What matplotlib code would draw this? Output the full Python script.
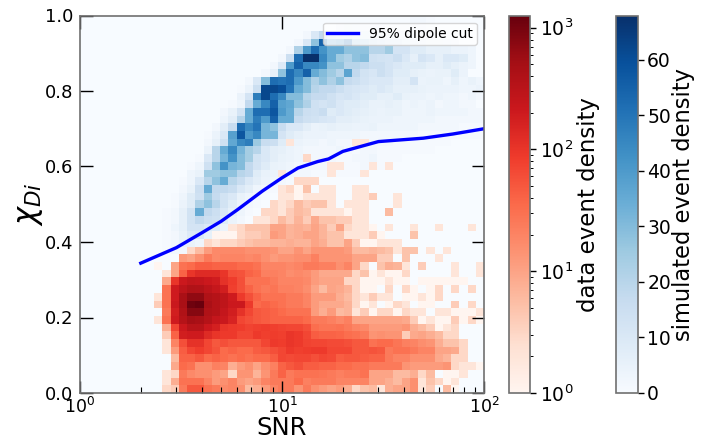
import numpy as np
import matplotlib
matplotlib.use("Agg")
import matplotlib.pyplot as plt
from matplotlib.colors import LogNorm, Normalize

# dipole cut curve
cut_snr = [2, 3, 4, 5, 6, 8, 10, 12, 15, 17, 20, 30, 50, 70, 100]
cut_chi = [0.344, 0.385, 0.424, 0.455, 0.485, 0.535, 0.57, 0.596, 0.613, 0.62, 0.64, 0.666, 0.675, 0.686, 0.70]

# data counts per row (bottom row first), starting at column 9
data_first_col = 9
data_rows = [
    [0, 3, 4, 25, 50, 50, 30, 25, 18, 20, 15, 6, 8, 12, 20, 25, 25, 14, 25, 15, 12, 10, 12, 8, 3, 5, 6, 2, 8, 10, 10, 15, 2, 4, 0, 6, 1],
    [0, 2, 8, 30, 30, 30, 20, 12, 15, 20, 12, 10, 12, 20, 25, 25, 25, 35, 22, 25, 25, 25, 20, 20, 20, 20, 10, 10, 8, 6, 10, 15, 2, 5, 3, 1, 2],
    [0, 2, 3, 25, 18, 15, 15, 12, 10, 3, 14, 14, 7, 14, 25, 40, 25, 30, 30, 30, 28, 25, 22, 25, 25, 30, 10, 10, 10, 6, 6, 8, 3, 6, 0, 1, 1, 2],
    [0, 0, 9, 35, 30, 15, 15, 22, 20, 8, 12, 15, 10, 16, 22, 40, 50, 60, 45, 45, 40, 40, 35, 35, 30, 30, 25, 25, 25, 25, 14, 12, 12, 12, 12, 14, 3, 2, 2, 1],
    [0, 0, 6, 40, 40, 50, 35, 40, 35, 30, 35, 30, 35, 35, 45, 70, 65, 70, 70, 60, 70, 65, 45, 50, 50, 45, 40, 40, 25, 20, 20, 15, 15, 15, 9, 7, 3, 3],
    [0, 2, 12, 45, 70, 85, 70, 55, 35, 40, 35, 35, 45, 50, 60, 70, 90, 80, 85, 90, 90, 70, 70, 70, 50, 50, 55, 50, 25, 30, 30, 25, 20, 20, 10, 10, 9, 3],
    [0, 2, 20, 60, 110, 110, 70, 50, 60, 50, 50, 50, 50, 70, 90, 85, 100, 90, 75, 70, 70, 65, 65, 60, 50, 50, 30, 35, 35, 28, 22, 20, 16, 14, 8, 5, 5, 3],
    [0, 4, 40, 180, 200, 200, 130, 100, 90, 90, 70, 70, 90, 80, 85, 80, 100, 90, 70, 45, 40, 40, 38, 32, 30, 25, 14, 15, 14, 14, 4, 9, 10, 8, 6, 3, 3],
    [0, 8, 70, 210, 330, 330, 210, 170, 100, 90, 85, 75, 80, 85, 80, 75, 70, 70, 60, 32, 28, 28, 30, 25, 20, 18, 12, 12, 12, 12, 14, 8, 6, 4, 1, 2, 3],
    [2, 30, 200, 350, 500, 450, 350, 250, 220, 160, 70, 60, 50, 45, 40, 40, 40, 40, 35, 25, 25, 22, 18, 22, 10, 10, 10, 10, 10, 10, 9, 4, 1, 2, 1, 1, 4, 1, 3, 1],
    [0, 25, 180, 400, 800, 800, 400, 350, 250, 180, 110, 70, 50, 45, 40, 35, 30, 30, 30, 12, 8, 12, 6, 7, 2, 4, 1, 3, 3, 1, 3, 2, 2, 0, 2, 2, 1, 1, 1, 2],
    [4, 30, 220, 450, 1100, 1200, 450, 350, 280, 210, 210, 90, 35, 40, 35, 30, 25, 25, 20, 12, 9, 9, 9, 7, 3, 1, 2, 0, 1, 3, 2, 0, 1, 1, 0, 0, 4, 0, 3],
    [2, 30, 200, 450, 700, 700, 400, 350, 280, 200, 90, 60, 40, 30, 30, 30, 25, 25, 20, 12, 12, 12, 8, 6, 3, 2, 4, 2, 2, 0, 1, 1, 2, 1, 3],
    [0, 30, 200, 300, 400, 380, 300, 240, 180, 80, 60, 40, 30, 25, 28, 22, 22, 20, 16, 10, 6, 10, 9, 7, 3, 1, 1, 0, 3, 0, 3, 1, 0, 1, 3, 0, 3, 0, 3],
    [0, 9, 100, 210, 270, 250, 210, 190, 110, 85, 60, 30, 30, 30, 25, 20, 20, 20, 18, 12, 10, 10, 10, 3, 3, 1, 1, 1, 2, 1, 1, 0, 1, 1, 1, 1, 1, 1],
    [0, 2, 10, 40, 100, 130, 130, 130, 100, 60, 55, 40, 35, 22, 22, 20, 16, 18, 16, 12, 9, 9, 9, 9, 3, 5, 1, 2, 1, 1, 3, 0, 0, 0, 0, 0, 2, 0, 0, 2],
    [1, 0, 10, 30, 35, 45, 45, 40, 40, 40, 35, 35, 30, 20, 20, 20, 18, 20, 25, 25, 22, 22, 15, 20, 10, 3, 0, 5, 8, 7, 2, 0, 4, 0, 0, 0, 2, 0, 0, 2],
    [0, 0, 0, 12, 10, 15, 25, 18, 20, 20, 20, 18, 20, 15, 12, 14, 14, 16, 16, 22, 14, 14, 14, 14, 10, 10, 10, 4, 4, 0, 5, 0, 0, 0, 2],
    [0, 0, 0, 0, 3, 6, 12, 18, 18, 18, 18, 15, 15, 15, 14, 10, 10, 14, 10, 14, 14, 14, 14, 12, 6, 6, 7, 6, 5, 2, 5, 5, 0, 2, 0, 2],
    [0, 0, 0, 0, 0, 0, 3, 2, 3, 3, 4, 5, 6, 6, 7, 7, 8, 7, 7, 10, 8, 5, 5, 10, 4, 1, 1, 2, 2, 2],
    [0, 0, 0, 0, 0, 0, 0, 1, 1, 1, 3, 4, 4, 5, 12, 10, 7, 8, 10, 10, 7, 5, 5, 2, 2, 2, 4, 1, 0, 0, 0, 5],
    [0, 0, 0, 0, 0, 0, 0, 0, 0, 2, 3, 5, 5, 5, 10, 10, 7, 8, 7, 10, 7, 4, 10, 3, 2, 2, 1, 0, 2, 0, 0, 2, 0, 0, 2, 0, 0, 0, 2],
    [0, 0, 0, 0, 0, 0, 0, 0, 0, 0, 0, 0, 2, 2, 3, 6, 4, 7, 4, 9, 5, 5, 4, 4, 2, 2],
    [0, 0, 0, 0, 0, 0, 0, 0, 0, 0, 0, 0, 0, 3, 3, 2, 4, 6, 5, 2, 2, 2, 2, 1, 2, 2, 0, 0, 6],
    [0, 0, 0, 0, 0, 0, 0, 0, 0, 0, 0, 0, 0, 0, 3, 2, 3, 6, 4, 5, 5, 2, 0, 2, 2, 2, 0, 0, 0, 2],
    [0, 0, 0, 0, 0, 0, 0, 0, 0, 0, 0, 0, 0, 0, 0, 2, 2, 1, 2, 2, 2, 2, 0, 0, 2, 2, 4, 0, 0, 2],
    [0, 0, 0, 0, 0, 0, 0, 0, 0, 0, 0, 0, 0, 0, 0, 2, 3, 1, 5, 0, 2, 2, 0, 0, 2, 2],
    [0, 0, 0, 0, 0, 0, 0, 0, 0, 0, 0, 0, 0, 0, 0, 0, 0, 3, 3, 3],
    [0, 0, 0, 0, 0, 0, 0, 0, 0, 0, 0, 0, 0, 0, 0, 2, 0, 0, 0, 0, 0, 2, 0, 0, 0, 2],
    [0, 0, 0, 0, 0, 0, 0, 0, 0, 0, 0, 0, 0, 0, 0, 0, 0, 0, 0, 0, 0, 2, 2, 0, 0, 0, 2, 0, 2],
    [0, 0, 0, 0, 0, 0, 0, 0, 0, 0, 0, 0, 0, 0, 0, 0, 0, 0, 3],
    [],
    [0, 0, 0, 0, 0, 0, 0, 0, 0, 0, 0, 0, 0, 0, 0, 0, 2, 0, 0, 0, 0, 0, 0, 0, 2, 2],
]

# simulated counts per row, (first column, values), rows 18 and up
sim_first_row = 18
sim_rows = [
    (10, [1, 2, 2, 2, 1]),
    (10, [1, 2, 5, 5, 3, 1]),
    (10, [1, 2, 5, 9, 10, 6, 3]),
    (10, [1, 3, 6, 12, 12, 10, 8, 4, 2]),
    (10, [1, 2, 6, 13, 18, 15, 14, 8, 4, 2]),
    (10, [1, 2, 6, 13, 35, 18, 15, 10, 6, 3, 1]),
    (11, [1, 4, 8, 22, 28, 20, 13, 8, 4, 2, 1]),
    (11, [1, 3, 8, 14, 25, 17, 13, 10, 5, 3, 2, 1]),
    (12, [2, 5, 15, 35, 18, 18, 16, 10, 7, 3, 2, 1, 1]),
    (12, [1, 3, 10, 20, 28, 35, 20, 16, 10, 7, 4, 3, 2, 1, 1, 1, 1]),
    (13, [3, 5, 25, 25, 28, 28, 20, 18, 8, 5, 4, 3, 2, 2, 2, 1, 1, 1, 1, 1, 1]),
    (13, [1, 3, 14, 28, 42, 32, 30, 18, 12, 8, 5, 4, 3, 2, 2, 2, 2, 1, 1, 1, 1, 2, 1, 1]),
    (14, [1, 10, 20, 32, 42, 30, 24, 13, 10, 7, 5, 4, 3, 2, 2, 2, 2, 1, 1, 2, 2, 3, 1, 1, 1]),
    (15, [4, 20, 35, 45, 32, 24, 20, 10, 7, 6, 4, 3, 2, 2, 2, 2, 3, 2, 1, 2, 2, 1, 1, 1, 1, 1, 1, 1]),
    (15, [2, 6, 14, 36, 45, 48, 26, 16, 15, 8, 6, 4, 3, 3, 2, 3, 2, 2, 2, 2, 2, 2, 2, 1, 1, 1, 1, 1, 1, 1]),
    (15, [1, 4, 10, 38, 58, 40, 45, 32, 32, 12, 8, 6, 4, 4, 4, 3, 3, 3, 3, 2, 2, 2, 2, 2, 2, 2, 1, 1, 1, 1, 1, 1, 1, 1]),
    (16, [2, 7, 16, 52, 45, 50, 32, 28, 16, 10, 10, 7, 4, 5, 6, 5, 5, 4, 4, 5, 3, 3, 3, 3, 3, 2, 2, 2, 2, 2, 1, 1, 1]),
    (17, [3, 7, 20, 35, 48, 40, 55, 35, 35, 17, 14, 13, 11, 10, 7, 7, 6, 5, 4, 4, 4, 3, 3, 3, 3, 3, 2, 2, 2, 2, 2, 2]),
    (17, [2, 5, 12, 35, 52, 52, 58, 40, 35, 20, 15, 14, 16, 8, 10, 8, 7, 6, 5, 4, 5, 5, 3, 3, 3, 4, 3, 3, 3, 3, 2, 2]),
    (18, [1, 3, 18, 35, 45, 55, 38, 36, 28, 22, 14, 12, 14, 10, 8, 8, 7, 5, 5, 6, 5, 3, 4, 3, 4, 2, 3, 3, 2, 2]),
    (19, [4, 12, 48, 62, 52, 45, 30, 30, 20, 17, 17, 14, 11, 12, 10, 8, 8, 6, 6, 8, 5, 4, 4, 3, 4, 3, 3, 2, 3, 2]),
    (19, [1, 4, 15, 62, 62, 60, 50, 35, 30, 20, 18, 18, 15, 12, 11, 10, 8, 10, 8, 6, 6, 6, 5, 4, 4, 4, 4, 3, 3, 4]),
    (20, [2, 10, 30, 52, 50, 52, 40, 30, 22, 28, 22, 28, 17, 15, 12, 10, 10, 10, 7, 7, 12, 4, 5, 5, 3, 6, 3, 5, 3]),
    (22, [2, 6, 28, 52, 45, 55, 35, 30, 25, 20, 37, 18, 13, 11, 15, 12, 8, 8, 6, 5, 4, 5, 5, 8, 4]),
    (23, [2, 9, 40, 55, 45, 45, 42, 28, 28, 20, 20, 18, 15, 15, 12, 10, 8, 8, 8, 6, 6, 8, 6, 4, 3]),
    (24, [2, 15, 52, 68, 68, 45, 35, 25, 22, 28, 30, 14, 13, 12, 15, 10, 6, 12, 10, 6, 10, 10, 8, 3]),
    (25, [2, 22, 40, 52, 42, 35, 35, 28, 28, 28, 20, 20, 25, 12, 12, 8, 8, 6, 6, 6, 4, 4, 3]),
    (26, [2, 10, 28, 55, 35, 38, 50, 25, 22, 18, 15, 12, 12, 8, 6, 6, 5, 5, 4, 3]),
    (27, [2, 10, 18, 15, 12, 12, 10, 8, 7, 5, 5, 3, 3, 4, 3, 3]),
    (31, [3, 5, 4, 3, 3, 3, 2, 2, 2, 3, 3, 2]),
    (40, [2, 2, 1]),
]

snr_edges = np.logspace(0, 2, 50)
chi_edges = np.linspace(0, 1, 50)

data_grid = np.zeros((49, 49))
for r, row in enumerate(data_rows):
    data_grid[r, data_first_col:data_first_col + len(row)] = row

sim_grid = np.zeros((49, 49))
for r, (first, row) in enumerate(sim_rows):
    sim_grid[sim_first_row + r, first:first + len(row)] = row

fig = plt.figure(figsize=(7.06, 4.41), dpi=100)
W, H = 706.0, 441.0
ax = fig.add_axes([80 / W, 1 - 393 / H, 404 / W, 377.5 / H])
cax_red = fig.add_axes([509 / W, 1 - 393 / H, 21 / W, 377.5 / H])
cax_blue = fig.add_axes([616 / W, 1 - 393 / H, 21.5 / W, 377.5 / H])

sim_mesh = ax.pcolormesh(snr_edges, chi_edges, sim_grid, cmap="Blues", norm=Normalize(0, 68))
data_mesh = ax.pcolormesh(snr_edges, chi_edges, np.ma.masked_equal(data_grid, 0), cmap="Reds",
                          norm=LogNorm(1, 1260))
ax.plot(cut_snr, cut_chi, color="blue", linewidth=2.4, label="95% dipole cut")

ax.set_xscale("log")
ax.set_xlim(1, 100)
ax.set_ylim(0, 1)
ax.set_xlabel("SNR", fontsize=17.5, labelpad=-1)
ax.set_ylabel(r"$\chi_{Di}$", fontsize=22, labelpad=0)
ax.tick_params(which="major", direction="in", top=True, right=True, length=9, width=1, labelsize=13, pad=5)
ax.tick_params(axis="x", which="major", labelsize=12.5, pad=3)
ax.tick_params(which="minor", direction="in", top=False, right=False, length=4, width=0.8)
for spine in ax.spines.values():
    spine.set_color("#707070")
    spine.set_linewidth(1.2)
ax.legend(loc="upper right", fontsize=10, handlelength=2.2, borderpad=0.3, bbox_to_anchor=(0.982, 0.981),
          borderaxespad=0)

cb_red = fig.colorbar(data_mesh, cax=cax_red)
cb_red.set_label("data event density", fontsize=16.5, labelpad=3)
cb_blue = fig.colorbar(sim_mesh, cax=cax_blue)
cb_blue.set_ticks([0, 10, 20, 30, 40, 50, 60])
cb_blue.set_label("simulated event density", fontsize=16.3, labelpad=1)
for cb in (cb_red, cb_blue):
    cb.ax.tick_params(labelsize=13.5, length=4, width=1, pad=3)
    cb.ax.tick_params(which="minor", length=2.5, width=0.7)
    cb.outline.set_edgecolor("#707070")
    cb.outline.set_linewidth(1.2)

fig.savefig("out.png", dpi=100)
